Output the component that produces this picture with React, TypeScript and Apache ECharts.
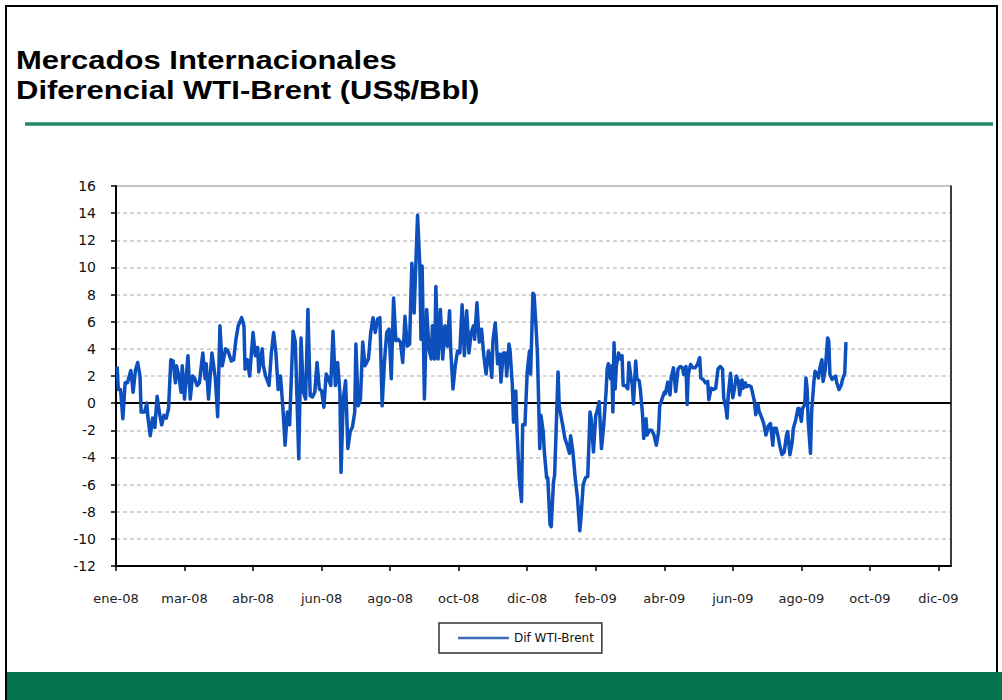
import React, { useEffect, useRef } from "react";
import * as echarts from "echarts";

// Days counted from 1 Jan 2008 (x positions of the daily series)
const dayOffsets: number[] = [
  1, 2, 4, 6, 8, 10, 13, 15, 17, 19, 21, 22, 25, 27, 28, 30, 32, 34, 36, 38, 40, 42, 44, 46, 48, 50, 52, 53, 55, 57, 58, 60,
  63, 65, 67, 69, 71, 73, 76, 78, 79, 81, 84, 87, 89, 91, 93, 96, 98, 101, 103, 105, 107, 110, 112, 113, 115, 117, 120, 122,
  124, 125, 128, 129, 131, 134, 136, 138, 140, 142, 144, 146, 148, 150, 152, 155, 157, 160,
  162, 164, 166, 168, 170, 172, 174, 176, 178, 180, 182, 184, 186, 188, 190, 192, 194, 196, 197, 199, 201, 203, 205, 207,
  209, 210, 212, 214, 216, 218, 221, 223, 225, 227, 229, 231, 233, 235, 237, 239, 241, 243, 245, 247, 249, 251, 253, 255,
  257, 259, 261, 263, 264, 266, 267, 268, 270, 272, 274, 276, 277, 279, 280, 282, 284, 286, 288, 290, 292, 293, 295, 297,
  299, 301, 303, 305, 307, 309, 311, 313, 314, 316, 318, 320,
  322, 324, 326, 327, 329, 330, 332, 333, 334, 336, 337, 339, 341, 342, 344, 345, 347, 348, 350, 351, 353, 355, 356, 358,
  360, 362, 363, 365, 366, 368, 369, 371, 372, 374, 375, 377, 378, 380, 381, 383, 384, 386, 387, 388, 390, 391, 393, 395,
  397, 398, 400, 402, 404, 406, 407, 409, 411, 413, 415, 416, 418, 420, 421, 423, 425, 427, 429, 430, 431, 433, 434, 435,
  436, 437, 438, 440, 441, 443, 444, 446, 448, 449, 451, 452, 453, 455, 456, 458, 459, 461, 462, 464, 465, 467, 469, 471,
  473, 475, 476, 478, 480, 481, 483,
  485, 486, 488, 490, 492, 494, 496, 497, 499, 500, 501, 503, 505, 507, 509, 511, 512, 514, 516, 518, 519, 521, 523, 525,
  527, 529, 531, 532, 534, 535, 536, 538, 539, 540, 542, 543, 545, 546, 548, 549, 551, 552, 554, 556, 557, 559, 560, 562,
  563, 565, 567, 569, 571, 573, 575, 576, 578, 580, 581, 583, 585, 587, 588, 590, 592, 593, 595, 597, 598, 600, 601, 603,
  604, 605, 606, 608, 609, 611, 612, 614, 615, 616, 618, 619, 621, 623, 624, 625, 627, 628, 630, 631, 633, 635, 636, 638, 639,
];

// Dif WTI-Brent (US$/Bbl)
const difWtiBrent: number[] = [
  2.7, 1.0, 1.0, -1.15, 1.5, 1.5, 2.4, 0.8, 2.4, 3.0, 2.0, -0.66, -0.66, 0, -1.1, -2.4, -1.1, -1.8, 0.5, -0.7, -1.6, -0.9, -1.1, -0.4, 3.2, 3.1, 1.5, 2.75, 2.0, 0.8, 2.75, 0.3,
  3.5, 0.3, 2.0, 1.8, 1.3, 1.5, 3.7, 1.8, 2.9, 0.3, 3.7, 1.8, -1.0, 5.7, 2.75, 4.0, 3.85, 3.1, 3.2, 4.7, 5.7, 6.3, 5.7, 2.5, 3.2, 2.0, 5.2, 3.5,
  4.1, 2.3, 4.0, 2.75, 2.0, 1.3, 3.7, 5.2, 3.7, 1.0, 2.0, -0.2, -3.1, -0.66, -1.6, 5.3, 4.5, -4.1,
  4.8, 0.8, 0.3, 6.9, 0.55, 0.45, 0.8, 3.0, 1.05, 0.9, -0.3, 2.15, 1.8, 1.3, 5.3, 1.3, 3.0, 0.8, -5.1, 0.3, 1.65, -3.35, -2.1, -1.75,
  -0.65, 4.35, -0.2, 0.3, 4.5, 2.75, 3.25, 5.2, 6.3, 5.2, 6.2, 6.3, -0.2, 3.0, 5.2, 5.45, 1.8, 7.75, 4.6, 4.7, 4.5, 3.0, 6.4, 4.2,
  4.35, 10.3, 6.65, 11.5, 13.85, 10.1, 4.7, 10.1, 0.3, 6.9, 4.0, 3.25, 5.7, 3.25, 8.6, 3.25, 6.9, 3.25, 5.7, 4.2, 6.8, 4.0, 1.05, 2.75,
  3.85, 3.7, 7.25, 3.5, 6.8, 3.7, 5.2, 5.7, 4.7, 7.4, 4.5, 5.45,
  3.5, 2.15, 3.85, 3.6, 1.9, 4.6, 5.9, 4.7, 2.9, 3.6, 1.55, 3.7, 3.7, 2.0, 4.35, 3.85, 1.3, -1.4, 0.9, -1.9, -5.5, -7.25, -1.6, -1.6,
  2.3, 3.85, 2.15, 8.1, 8.0, 5.2, 3.5, -3.35, -0.9, -2.1, -3.6, -5.5, -5.5, -8.95, -9.1, -5.8, -5.3, -0.2, 2.3, -0.2, -1.15, -1.6, -2.6, -3.1,
  -3.7, -2.4, -3.6, -5.5, -7.0, -9.4, -8.5, -6.0, -5.5, -5.4, -0.65, -1.15, -3.6, -0.9, -0.65, 0.1, -3.35, -1.6, 0.8, 2.5, 2.9, 1.8, 2.75, -0.65,
  4.45, 1.05, 2.75, 3.7, 3.25, 3.5, 1.3, 1.3, 1.05, 3.0, 1.8, 1.3, -0.05, 3.1, 1.8, 1.65, 1.05, -0.9, -2.6, -1.15, -2.35, -2.0, -2.0, -2.35,
  -3.1, -2.1, -0.2, 0.3, 0.8, 0.7, 1.55,
  0.6, 1.85, 2.6, 0.85, 2.5, 2.7, 2.6, 2.1, 2.7, -0.1, 2.1, 2.85, 2.6, 2.6, 2.85, 3.35, 1.85, 1.75, 1.5, 1.6, 0.25, 1.1, 1.0, 1.1,
  2.5, 2.7, 2.5, 0.4, -0.4, -1.1, 0.6, 2.2, 1.2, 0.4, 1.35, 2.0, 1.6, 0.6, 1.7, 1.1, 1.5, 1.2, 1.3, 1.2, 0.85, 0.1, -0.85, -0.1,
  -0.6, -1.0, -1.5, -2.35, -1.7, -1.5, -3.1, -1.85, -1.85, -2.6, -3.1, -3.8, -3.6, -2.35, -2.1, -3.8, -2.85, -1.85, -1.25, -0.4, -0.4, -1.35, -0.4, -0.1,
  1.85, 1.1, -1.35, -3.7, -0.6, 1.6, 2.35, 2.1, 1.85, 2.5, 3.2, 1.6, 2.5, 4.8, 4.55, 2.1, 1.75, 1.85, 2.0, 1.5, 1.0, 1.35, 1.75, 2.2, 4.5,
];

const seriesName = "Dif WTI-Brent";
const tickDays: number[] = [0, 60, 120, 180, 240, 300, 360, 420, 480, 540, 600, 660, 720];
const tickLabels: string[] = [
  "ene-08", "mar-08", "abr-08", "jun-08", "ago-08", "oct-08", "dic-08",
  "feb-09", "abr-09", "jun-09", "ago-09", "oct-09", "dic-09",
];
const titleLines: string[] = ["Mercados Internacionales", "Diferencial WTI-Brent (US$/Bbl)"];

export default function App() {
  const ref = useRef<HTMLDivElement>(null);

  useEffect(() => {
    if (!ref.current) return;
    const chart = echarts.init(ref.current, undefined, { renderer: "svg" });
    const data = dayOffsets.map((d, i) => [d, difWtiBrent[i]]);
    const font = "'DejaVu Sans', sans-serif";
    const titleFont = "'Liberation Sans', Arial, sans-serif";

    chart.setOption({
      animation: false,
      backgroundColor: "#ffffff",
      graphic: [
        {
          type: "rect",
          shape: { x: 6, y: 6, width: 991, height: 700 },
          style: { fill: "none", stroke: "#000", lineWidth: 2 },
          silent: true,
        },
        {
          type: "rect",
          shape: { x: 7, y: 672, width: 995, height: 28 },
          style: { fill: "#06734f" },
          silent: true,
        },
        {
          type: "line",
          shape: { x1: 25, y1: 124, x2: 993, y2: 124 },
          style: { stroke: "#23866a", lineWidth: 3.5 },
          silent: true,
        },
        {
          type: "text",
          x: 16,
          y: 61,
          scaleX: 1.24,
          style: {
            text: titleLines[0],
            fontFamily: titleFont,
            fontWeight: "bold",
            fontSize: 25,
            fill: "#000",
            align: "left",
            verticalAlign: "middle",
          },
        },
        {
          type: "text",
          x: 16,
          y: 91,
          scaleX: 1.24,
          style: {
            text: titleLines[1],
            fontFamily: titleFont,
            fontWeight: "bold",
            fontSize: 25,
            fill: "#000",
            align: "left",
            verticalAlign: "middle",
          },
        },
      ],
      legend: {
        data: [{ name: seriesName, icon: "rect" }],
        left: 439,
        top: 623,
        orient: "horizontal",
        padding: [8, 8, 8, 19],
        itemWidth: 51,
        itemHeight: 2.5,
        borderColor: "#333",
        borderWidth: 1.5,
        itemStyle: { color: "#3b6db8", borderWidth: 0 },
        textStyle: { fontFamily: font, fontSize: 12, color: "#111", lineHeight: 14 },
      },
      grid: {
        left: 116,
        right: 51,
        top: 186,
        bottom: 134,
        show: true,
        borderColor: "#888",
        borderWidth: 1,
        backgroundColor: "#fff",
        outerBoundsMode: "none",
      },
      xAxis: {
        type: "value",
        min: 0,
        max: 731,
        interval: 60,
        axisLine: { show: true, onZero: false, lineStyle: { color: "#000", width: 2 } },
        axisTick: {
          show: true,
          length: 5,
          customValues: tickDays,
          lineStyle: { color: "#000", width: 1.5 },
        },
        axisLabel: {
          margin: 26,
          fontFamily: font,
          fontSize: 13,
          color: "#222",
          customValues: tickDays,
          formatter: (v: number) => {
            const i = Math.round(v / 60);
            return Math.abs(v - i * 60) < 0.5 ? tickLabels[i] ?? "" : "";
          },
        },
        splitLine: { show: false },
      },
      yAxis: [
        {
          type: "value",
          min: -12,
          max: 16,
          interval: 2,
          axisLine: { show: true, onZero: false, lineStyle: { color: "#000", width: 2 } },
          axisTick: { show: true, length: 5, lineStyle: { color: "#000", width: 1.5 } },
          axisLabel: { margin: 20, fontFamily: font, fontSize: 14, color: "#111" },
          splitLine: { show: true, lineStyle: { color: "#c6c6c6", width: 1.5, type: [4, 3] } },
        },
        {
          type: "value",
          position: "right",
          min: -12,
          max: 16,
          interval: 2,
          axisLine: { show: true, onZero: false, lineStyle: { color: "#111", width: 1.5 } },
          axisTick: { show: false },
          axisLabel: { show: false },
          splitLine: { show: false },
        },
      ],
      series: [
        {
          name: seriesName,
          type: "line",
          data,
          symbol: "none",
          showSymbol: false,
          lineStyle: { color: "#0c4fbd", width: 3.5, join: "round" },
          itemStyle: { color: "#0c4fbd" },
          z: 3,
          markLine: {
            silent: true,
            symbol: ["none", "none"],
            label: { show: false },
            lineStyle: { color: "#000", width: 2, type: "solid" },
            data: [{ yAxis: 0 }],
            z: 2,
          },
        },
      ],
    });

    return () => chart.dispose();
  }, []);

  return (
    <div
      ref={ref}
      style={{ position: "fixed", left: 0, top: 0, width: 1002, height: 700 }}
    />
  );
}
